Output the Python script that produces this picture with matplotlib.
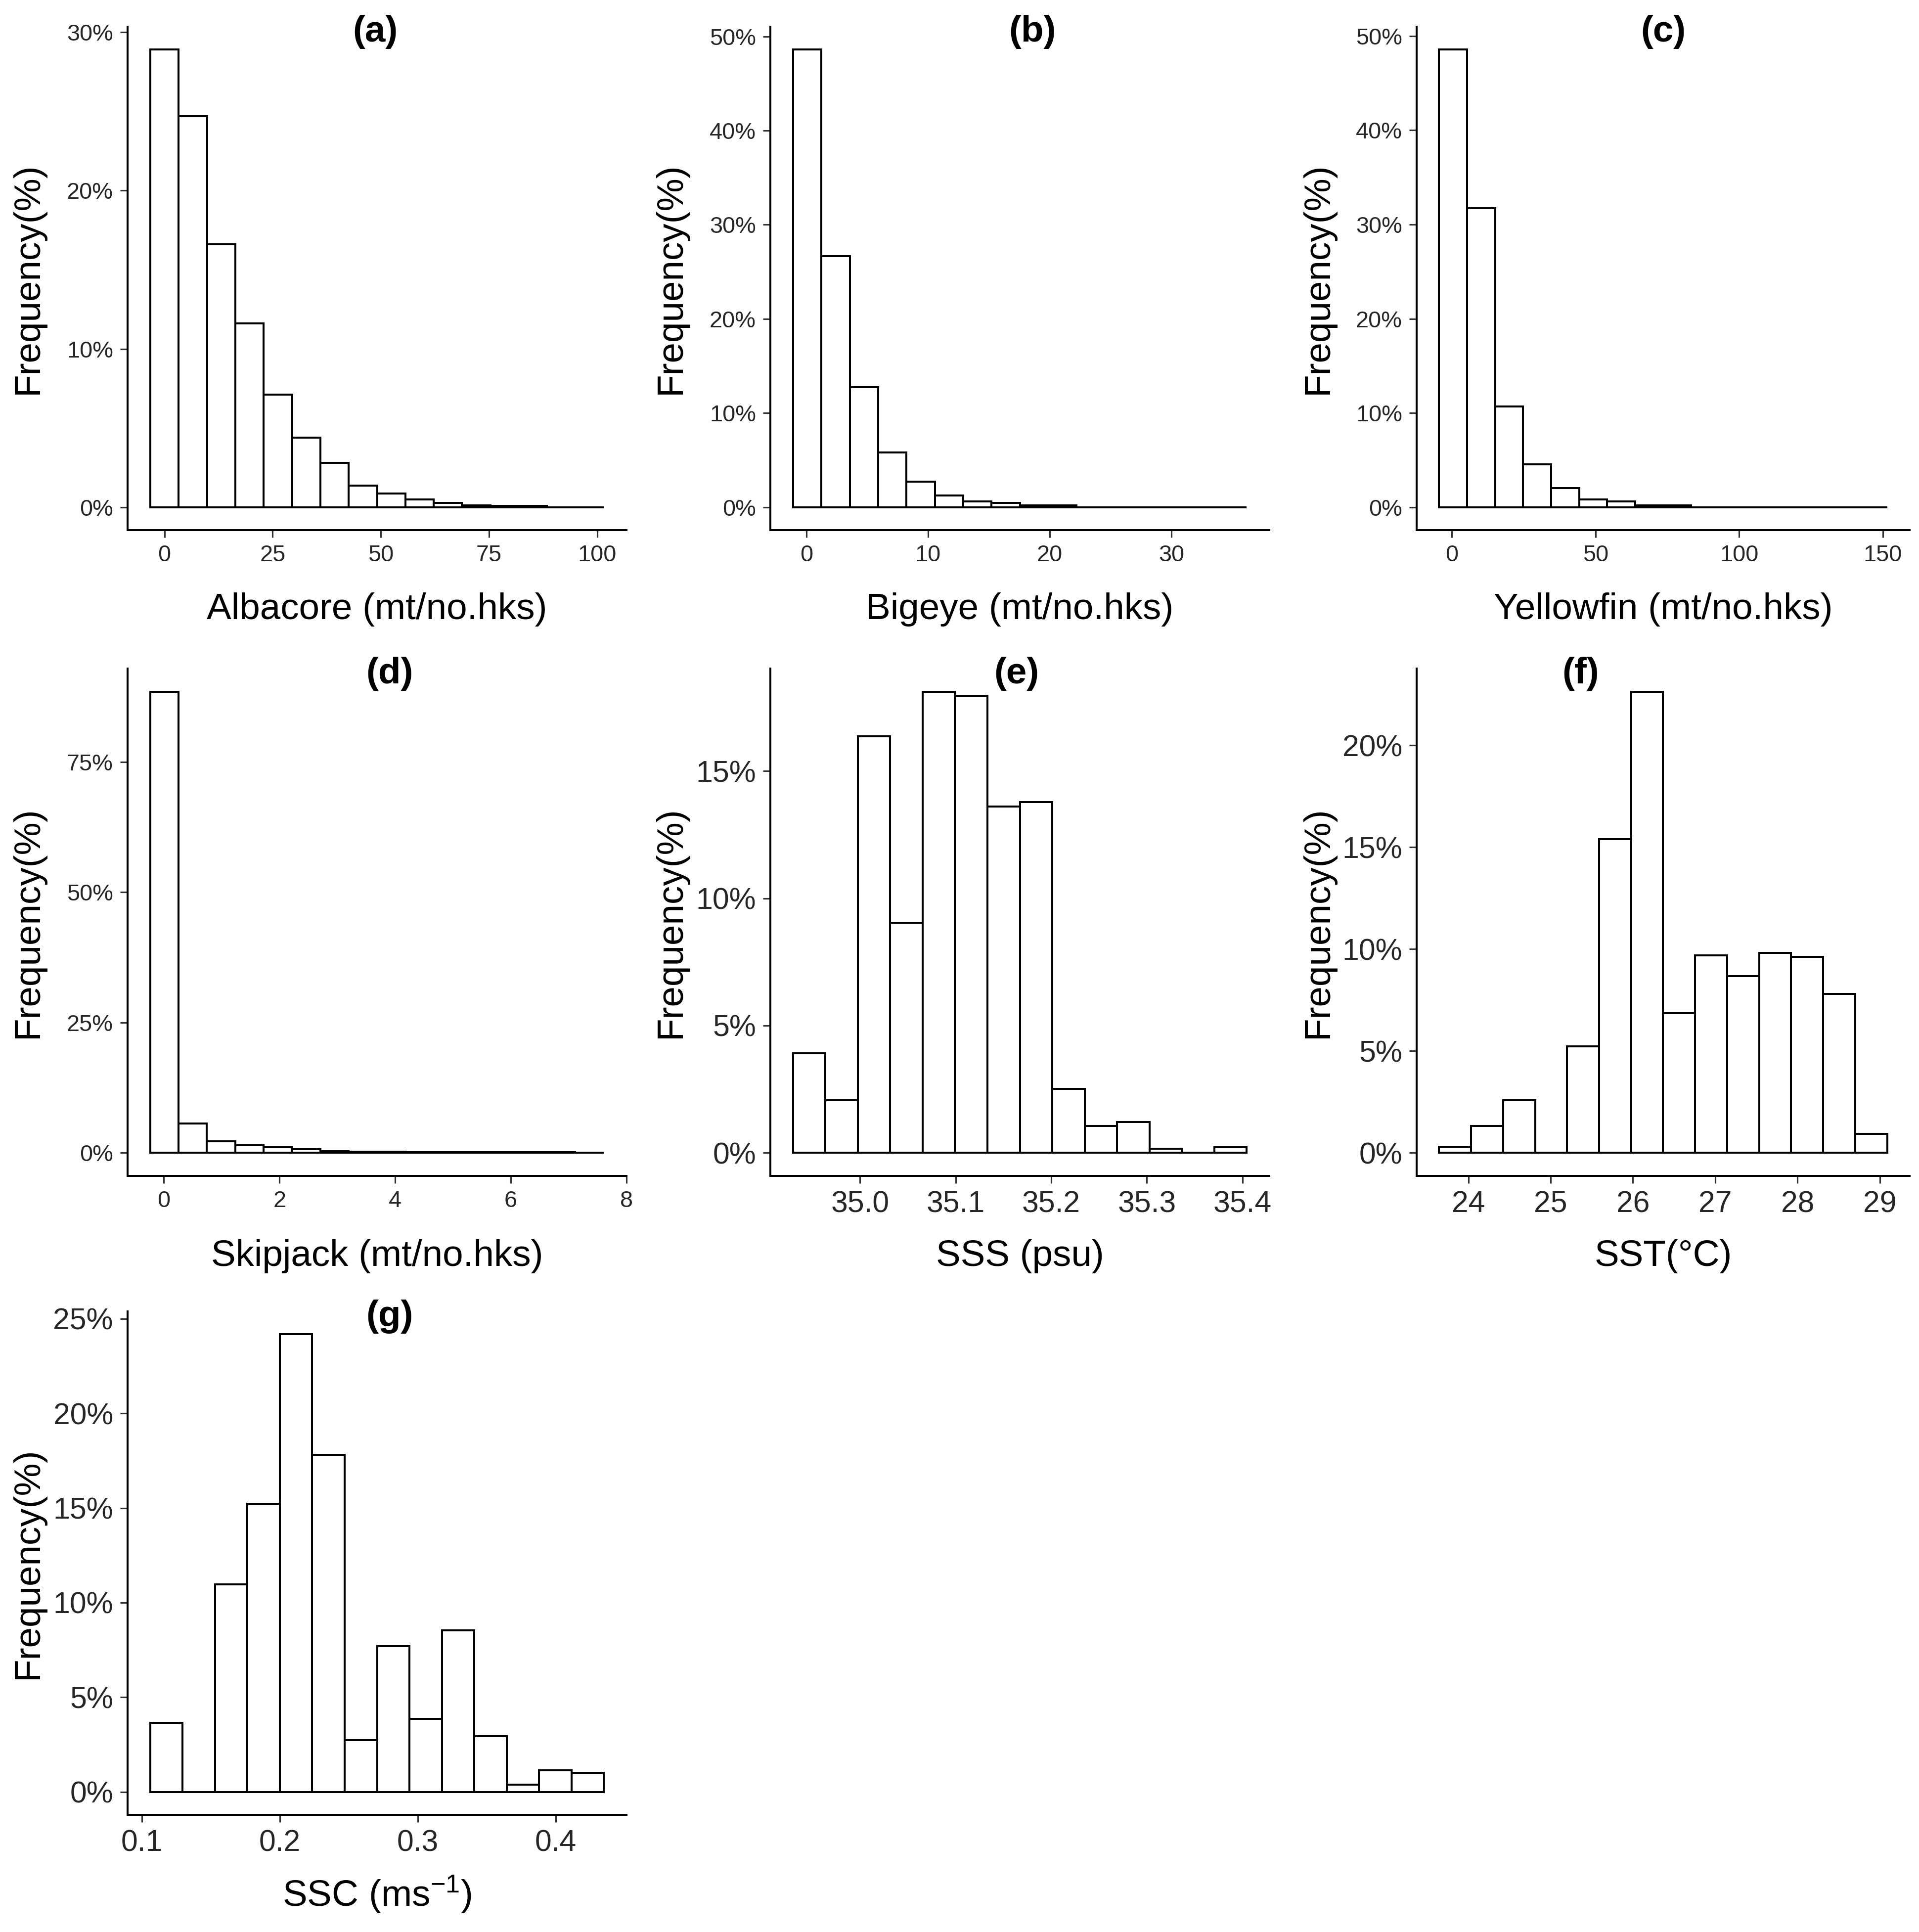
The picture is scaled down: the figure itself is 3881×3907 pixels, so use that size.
import numpy as np
import matplotlib
matplotlib.use('Agg')
import matplotlib.pyplot as plt

plt.rcParams['font.family'] = ['Liberation Sans', 'DejaVu Sans']
plt.rcParams['mathtext.fontset'] = 'custom'
plt.rcParams['mathtext.rm'] = 'Liberation Sans'
plt.rcParams['mathtext.default'] = 'regular'

# histogram bins (first left edge, bin width) and bar heights in %
alb_start, alb_width = -3.28, 6.55
alb_pct = [28.9, 24.7, 16.6, 11.6, 7.1, 4.4, 2.8, 1.35, 0.88, 0.49, 0.28, 0.13, 0.1, 0.1, 0.0, 0.0]

big_start, big_width = -1.1, 2.33
big_pct = [48.6, 26.65, 12.76, 5.8, 2.7, 1.22, 0.6, 0.44, 0.2, 0.2, 0.0, 0.0, 0.0, 0.0, 0.0, 0.0]

yel_start, yel_width = -4.5, 9.75
yel_pct = [48.56, 31.75, 10.67, 4.53, 2.05, 0.83, 0.61, 0.2, 0.2, 0.0, 0.0, 0.0, 0.0, 0.0, 0.0, 0.0]

skj_start, skj_width = -0.235, 0.49
skj_pct = [88.5, 5.6, 2.2, 1.5, 1.1, 0.7, 0.3, 0.2, 0.2, 0.15, 0.1, 0.1, 0.1, 0.1, 0.1, 0.0]

sss_start, sss_width = 34.930, 0.03388
sss_pct = [3.91, 2.07, 16.36, 9.05, 18.12, 17.96, 13.61, 13.79, 2.52, 1.05, 1.21, 0.16, 0.0, 0.23]

sst_start, sst_width = 23.644, 0.389
sst_pct = [0.3, 1.31, 2.57, 0.0, 5.23, 15.39, 22.63, 6.85, 9.7, 8.67, 9.8, 9.62, 7.8, 0.93]

ssc_start, ssc_width = 0.106, 0.02349
ssc_pct = [3.65, 0.0, 10.96, 15.23, 24.18, 17.8, 2.73, 7.7, 3.86, 8.53, 2.95, 0.39, 1.13, 1.02]

alb_xticks = [0, 25, 50, 75, 100]
big_xticks = [0, 10, 20, 30]
yel_xticks = [0, 50, 100, 150]
skj_xticks = [0, 2, 4, 6, 8]
sss_xticks = [35.0, 35.1, 35.2, 35.3, 35.4]
sss_xticklabels = ['35.0', '35.1', '35.2', '35.3', '35.4']
sst_xticks = [24, 25, 26, 27, 28, 29]
ssc_xticks = [0.1, 0.2, 0.3, 0.4]

alb_yticks = [0, 10, 20, 30]
big_yticks = [0, 10, 20, 30, 40, 50]
yel_yticks = [0, 10, 20, 30, 40, 50]
skj_yticks = [0, 25, 50, 75]
sss_yticks = [0, 5, 10, 15]
sst_yticks = [0, 5, 10, 15, 20]
ssc_yticks = [0, 5, 10, 15, 20, 25]

W, H = 3881, 3907
fig = plt.figure(figsize=(W / 250, H / 250), dpi=250)

# panel boxes in pixels: left, right, top, bottom
cols = [(258, 1267), (1558, 2567), (2865, 3862)]
rows = [(54, 1072), (1352, 2378), (2652, 3670)]

panels = [
    ('(a)', 0.496, alb_start, alb_width, alb_pct, alb_xticks, None, alb_yticks,
     'Albacore (mt/no.hks)', 13.5, 0, 0),
    ('(b)', 0.525, big_start, big_width, big_pct, big_xticks, None, big_yticks,
     'Bigeye (mt/no.hks)', 13.5, 0, 1),
    ('(c)', 0.5, yel_start, yel_width, yel_pct, yel_xticks, None, yel_yticks,
     'Yellowfin (mt/no.hks)', 13.5, 0, 2),
    ('(d)', 0.525, skj_start, skj_width, skj_pct, skj_xticks, None, skj_yticks,
     'Skipjack (mt/no.hks)', 13.5, 1, 0),
    ('(e)', 0.493, sss_start, sss_width, sss_pct, sss_xticks, sss_xticklabels, sss_yticks,
     'SSS (psu)', 17.5, 1, 1),
    ('(f)', 0.333, sst_start, sst_width, sst_pct, sst_xticks, None, sst_yticks,
     'SST(°C)', 17.5, 1, 2),
    ('(g)', 0.525, ssc_start, ssc_width, ssc_pct, ssc_xticks, None, ssc_yticks,
     'SSC (ms$^{-1}$)', 17.5, 2, 0),
]

for tag, tx, start, width, pct, xt, xtl, yt, xlabel, tfs, r, c in panels:
    l, rgt = cols[c]
    top, bot = rows[r]
    ax = fig.add_axes([l / W, 1 - bot / H, (rgt - l) / W, (bot - top) / H])

    pct = np.array(pct)
    lefts = start + width * np.arange(len(pct))
    ax.bar(lefts, pct, width=width, align='edge', color='white',
           edgecolor='black', linewidth=1.15)

    x0, x1 = lefts[0], lefts[-1] + width
    xr = x1 - x0
    ax.set_xlim(x0 - 0.05 * xr, x1 + 0.05 * xr)
    ymax = pct.max()
    ax.set_ylim(-0.05 * ymax, 1.05 * ymax)

    ax.set_xticks(xt)
    if xtl is not None:
        ax.set_xticklabels(xtl)
    ax.set_yticks(yt)
    ax.set_yticklabels([f'{v}%' for v in yt])

    for s in ['top', 'right']:
        ax.spines[s].set_visible(False)
    for s in ['left', 'bottom']:
        ax.spines[s].set_linewidth(1.15)
    ax.tick_params(direction='out', length=4.2, width=0.9, pad=4.2,
                   labelsize=tfs, labelcolor='#262626', color='#333333')

    ax.set_xlabel(xlabel, fontsize=21.5, va='center')
    ax.xaxis.set_label_coords(0.5, -0.158)
    ax.set_ylabel('Frequency(%)', fontsize=21.5, va='center')
    ax.yaxis.set_label_coords(-0.2, 0.5)

    ax.text(tx, 0.99, tag, transform=ax.transAxes, ha='center', va='center',
            fontsize=21.5, fontweight='bold')

fig.savefig('out.png', dpi=250, facecolor='white')
